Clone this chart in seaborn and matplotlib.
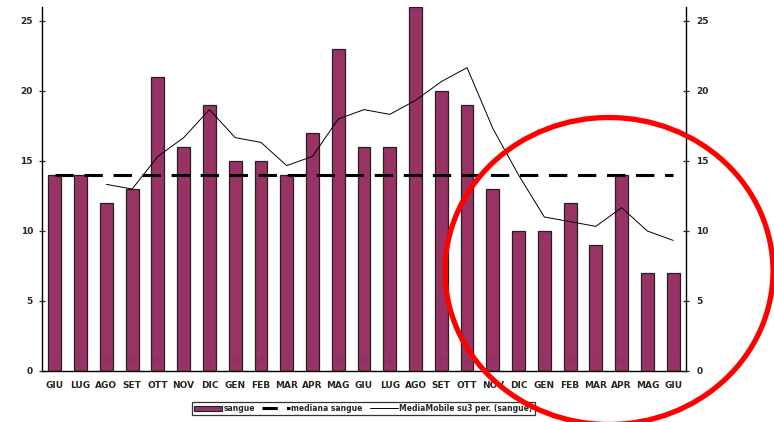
# plot.py
# Monthly "sangue" counts with median line and 3-period moving average

import numpy as np
import pandas as pd
import matplotlib
matplotlib.use('Agg')
import matplotlib.pyplot as plt
import seaborn as sns
from matplotlib.patches import Ellipse, Patch
from matplotlib.lines import Line2D

months = ['GIU', 'LUG', 'AGO', 'SET', 'OTT', 'NOV', 'DIC', 'GEN', 'FEB', 'MAR', 'APR', 'MAG',
          'GIU', 'LUG', 'AGO', 'SET', 'OTT', 'NOV', 'DIC', 'GEN', 'FEB', 'MAR', 'APR', 'MAG', 'GIU']
sangue = [14, 14, 12, 13, 21, 16, 19, 15, 15, 14, 17, 23,
          16, 16, 26, 20, 19, 13, 10, 10, 12, 9, 14, 7, 7]
mediana = 14
# moving average over 3 periods (starts at the 3rd month)
media_mobile = [13.33, 13.0, 15.33, 16.67, 18.67, 16.67, 16.33, 14.67, 15.33, 18.0, 18.67,
                18.33, 19.33, 20.67, 21.67, 17.33, 14.0, 11.0, 10.67, 10.33, 11.67, 10.0, 9.33]

BAR = '#993366'

sns.set_style('white')
plt.rcParams['font.family'] = ['DejaVu Sans']

df = pd.DataFrame({'pos': np.arange(len(months)), 'sangue': sangue})

fig = plt.figure(figsize=(7.74, 4.22), dpi=100)
ax = fig.add_axes([42 / 774, 51 / 422, 644 / 774, 364 / 422])

sns.barplot(data=df, x='pos', y='sangue', color=BAR, width=0.5,
            edgecolor='#222222', linewidth=0.9, saturation=1, ax=ax)

# median line
med_x = np.arange(len(months))
ax.plot(med_x, [mediana] * len(months), color='black', lw=2.2, dashes=(6, 3.5))

# moving average
ma_x = np.arange(2, len(months))
sns.lineplot(x=ma_x, y=media_mobile, color='black', lw=0.7, ax=ax)

# value labels inside bars
for i, v in enumerate(sangue):
    ax.text(i, 0.6, str(v), ha='center', va='bottom', fontsize=4.5, color='#6a3a5e')

ax.set_xlim(-0.5, len(months) - 0.5)
ax.set_ylim(0, 26)
ax.set_xlabel('')
ax.set_ylabel('')

ax.set_xticks(np.arange(len(months)))
ax.set_xticklabels(months, fontsize=6.5, fontweight='bold')
ax.set_xticks(np.arange(len(months) + 1) - 0.5, minor=True)
ax.tick_params(axis='x', which='major', length=0, pad=7)
ax.tick_params(axis='x', which='minor', length=5, direction='inout', width=0.9)

ax.set_yticks(range(0, 26, 5))
ax.set_yticklabels([str(t) for t in range(0, 26, 5)], fontsize=6.5, fontweight='bold')
ax.tick_params(axis='y', left=True, length=5, direction='inout', width=0.9, pad=4)

ax.spines['top'].set_visible(False)
ax.spines['right'].set_visible(False)
for side in ['left', 'bottom']:
    ax.spines[side].set_color('black')
    ax.spines[side].set_linewidth(1.0)

ax2 = ax.twinx()
ax2.set_ylim(0, 26)
ax2.set_yticks(range(0, 26, 5))
ax2.set_yticklabels([str(t) for t in range(0, 26, 5)], fontsize=6.5, fontweight='bold')
ax2.tick_params(axis='y', right=True, length=5, direction='inout', width=0.9, pad=5)
for side in ['top', 'left', 'bottom']:
    ax2.spines[side].set_visible(False)
ax2.spines['right'].set_color('black')
ax2.spines['right'].set_linewidth(1.0)

handles = [Patch(facecolor=BAR, edgecolor='#222222', lw=0.8),
           Line2D([], [], color='black', lw=2.2, dashes=(5, 3)),
           Line2D([], [], color='black', lw=0.7)]
labels = ['sangue', 'mediana sangue', 'MediaMobile su3 per. (sangue)']
leg = fig.legend(handles, labels, loc='center', bbox_to_anchor=(363.5 / 774, 13.5 / 422),
                 ncol=3, fontsize=5.5, frameon=True, fancybox=False, handlelength=3.6,
                 borderpad=0.3, columnspacing=1.0, handletextpad=0.2, borderaxespad=0)
leg.get_frame().set_edgecolor('black')
leg.get_frame().set_linewidth(0.9)
for t in leg.get_texts():
    t.set_fontweight('bold')

# red annotation circle
fig.add_artist(Ellipse((609 / 774, 1 - 271 / 422), 328 / 774, 307 / 422,
                       transform=fig.transFigure, fill=False, edgecolor='#ff0000', lw=3.8,
                       zorder=10))

fig.savefig('out.png', dpi=100)
